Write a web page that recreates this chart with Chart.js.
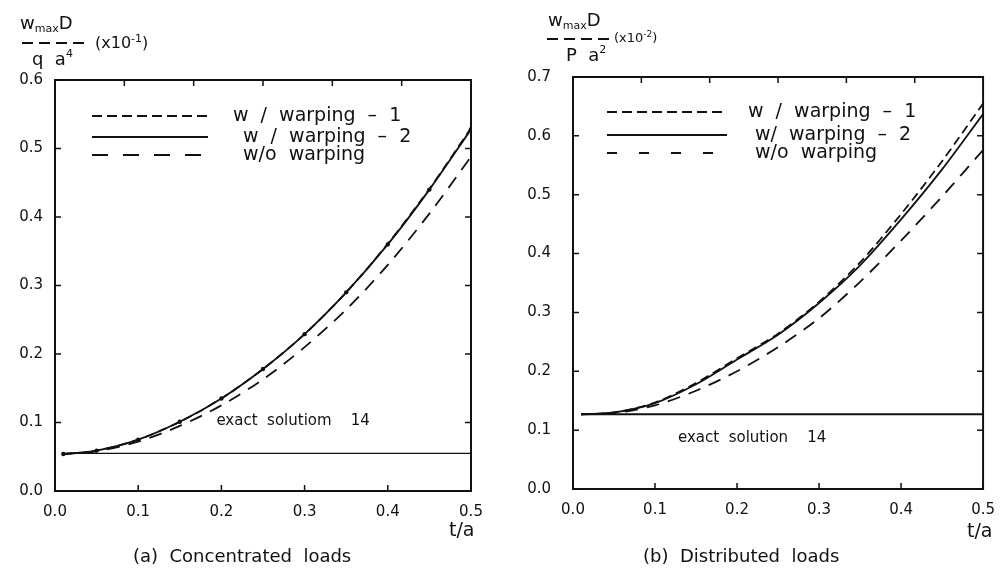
<!DOCTYPE html>
<html>
<head>
<meta charset="utf-8">
<title>w_max D vs t/a</title>
<script src="https://cdn.jsdelivr.net/npm/chart.js@4.4.1/dist/chart.umd.min.js"></script>
<style>
  body { margin: 0; background: #fff; width: 1007px; height: 570px; overflow: hidden; position: relative;
         font-family: "DejaVu Sans", sans-serif; color: #111; }
  .wrap { position: absolute; top: 0; height: 570px; }
  #wrapA { left: 0; width: 500px; }
  #wrapB { left: 500px; width: 507px; }
  .lbl { position: absolute; white-space: nowrap; line-height: 1; }
  .bar { position: absolute; height: 1.5px;
         background: repeating-linear-gradient(to right, #111 0 11px, transparent 11px 17px); }
</style>
</head>
<body>
<div class="wrap" id="wrapA"><canvas id="chartA" width="500" height="570"></canvas></div>
<div class="wrap" id="wrapB"><canvas id="chartB" width="507" height="570"></canvas></div>

<!-- y axis labels (fractions) -->
<div class="lbl" style="left:20px; top:14px; font-size:18px;">w<span style="font-size:11px; position:relative; top:3px;">max</span>D</div>
<div class="bar" style="left:22px; top:42px; width:64px;"></div>
<div class="lbl" style="left:32px; top:50px; font-size:18px;">q&nbsp;&nbsp;a<span style="font-size:11px; position:relative; top:-8px;">4</span></div>
<div class="lbl" style="left:95px; top:35px; font-size:16px;">(x10<span style="font-size:11px; position:relative; top:-6px;">-1</span>)</div>

<div class="lbl" style="left:548px; top:11px; font-size:18px;">w<span style="font-size:11px; position:relative; top:3px;">max</span>D</div>
<div class="bar" style="left:547px; top:38px; width:64px;"></div>
<div class="lbl" style="left:566px; top:46px; font-size:18px;">P&nbsp;&nbsp;a<span style="font-size:11px; position:relative; top:-8px;">2</span></div>
<div class="lbl" style="left:614px; top:31px; font-size:13px;">(x10<span style="font-size:9px; position:relative; top:-5px;">-2</span>)</div>

<!-- x axis titles and captions -->
<div class="lbl" style="left:449px; top:520px; font-size:19px;">t/a</div>
<div class="lbl" style="left:967px; top:521px; font-size:19px;">t/a</div>
<div class="lbl" style="left:133px; top:547px; font-size:18px;">(a)&nbsp;&nbsp;Concentrated&nbsp;&nbsp;loads</div>
<div class="lbl" style="left:643px; top:547px; font-size:18px;">(b)&nbsp;&nbsp;Distributed&nbsp;&nbsp;loads</div>

<script>
// t/a stations where the curves were read
const tValues = [0.01, 0.05, 0.10, 0.15, 0.20, 0.25, 0.30, 0.35, 0.40, 0.45, 0.50];
const xTicks = [0.0, 0.1, 0.2, 0.3, 0.4, 0.5];
const topTicks = [1/12, 2/12, 3/12, 4/12, 5/12];

// (a) concentrated loads, x10^-1
const concWarp1 = [0.054, 0.059, 0.075, 0.101, 0.135, 0.178, 0.229, 0.290, 0.361, 0.441, 0.530];
const concWarp2 = [0.054, 0.059, 0.075, 0.101, 0.135, 0.178, 0.229, 0.290, 0.360, 0.440, 0.528];
const concNoWarp = [0.054, 0.058, 0.072, 0.095, 0.125, 0.163, 0.210, 0.265, 0.330, 0.405, 0.488];
const concExact = 0.055;
const concYTicks = [0.0, 0.1, 0.2, 0.3, 0.4, 0.5, 0.6];

// (b) distributed loads, x10^-2
const distWarp1 = [0.127, 0.130, 0.147, 0.180, 0.222, 0.264, 0.318, 0.385, 0.467, 0.557, 0.655];
const distWarp2 = [0.127, 0.130, 0.146, 0.178, 0.220, 0.262, 0.316, 0.380, 0.458, 0.543, 0.637];
const distNoWarp = [0.127, 0.129, 0.142, 0.167, 0.200, 0.241, 0.290, 0.352, 0.422, 0.497, 0.576];
const distExact = 0.127;
const distYTicks = [0.0, 0.1, 0.2, 0.3, 0.4, 0.5, 0.6, 0.7];

const FONT = '"DejaVu Sans", sans-serif';
const INK = '#111';

function pts(vals) {
  return vals.map((v, i) => ({ x: tValues[i], y: v }));
}

// frame, inward ticks, legend and note drawn over the plot
const framePlugin = {
  id: 'frame',
  afterDatasetsDraw(chart, args, opts) {
    const ctx = chart.ctx;
    const a = chart.chartArea;
    const x = chart.scales.x, y = chart.scales.y;
    ctx.save();
    ctx.strokeStyle = INK;
    ctx.lineWidth = 2;
    ctx.setLineDash([]);
    ctx.strokeRect(a.left, a.top, a.right - a.left, a.bottom - a.top);

    ctx.lineWidth = 1.5;
    ctx.beginPath();
    xTicks.forEach(v => {
      const px = x.getPixelForValue(v);
      ctx.moveTo(px, a.bottom); ctx.lineTo(px, a.bottom - 6);
    });
    topTicks.forEach(v => {
      const px = x.getPixelForValue(v);
      ctx.moveTo(px, a.top); ctx.lineTo(px, a.top + 6);
    });
    opts.yTicks.forEach(v => {
      const py = y.getPixelForValue(v);
      ctx.moveTo(a.left, py); ctx.lineTo(a.left + 6, py);
      ctx.moveTo(a.right, py); ctx.lineTo(a.right - 6, py);
    });
    ctx.stroke();

    // note about exact solution
    ctx.fillStyle = INK;
    ctx.font = '15px ' + FONT;
    ctx.textBaseline = 'middle';
    ctx.textAlign = 'left';
    ctx.fillText(opts.note, x.getPixelForValue(opts.noteAt[0]), y.getPixelForValue(opts.noteAt[1]));

    // legend
    const lg = opts.legend;
    ctx.font = '19px ' + FONT;
    chart.data.datasets.filter(d => d.legendDash).forEach((d, i) => {
      const ly = lg.y + lg.rows[i];
      ctx.lineWidth = d.borderWidth;
      ctx.setLineDash(d.legendDash);
      ctx.beginPath();
      ctx.moveTo(lg.x, ly); ctx.lineTo(lg.x + lg.len, ly);
      ctx.stroke();
      ctx.setLineDash([]);
      ctx.fillText(d.label, lg.textX[i], ly);
    });
    ctx.restore();
  }
};

function makeChart(id, cfg) {
  return new Chart(document.getElementById(id), {
    type: 'line',
    data: {
      datasets: [
        { label: cfg.labels[0], data: pts(cfg.warp1), borderColor: INK, borderWidth: 1.8,
          borderDash: [9, 5], legendDash: [10, 5], pointRadius: 0, tension: 0.3 },
        { label: cfg.labels[1], data: pts(cfg.warp2), borderColor: INK, backgroundColor: INK, borderWidth: 1.8,
          legendDash: [1, 0], pointRadius: cfg.markers, pointBorderWidth: 0, tension: 0.3 },
        { label: cfg.labels[2], data: pts(cfg.noWarp), borderColor: INK, borderWidth: 1.8,
          borderDash: [13, 9], legendDash: cfg.noWarpDash, pointRadius: 0, tension: 0.3 },
        { label: 'exact solution', data: [{ x: tValues[0], y: cfg.exact }, { x: 0.5, y: cfg.exact }],
          borderColor: INK, borderWidth: cfg.exactWidth, pointRadius: 0 }
      ]
    },
    options: {
      responsive: false,
      animation: false,
      layout: { padding: cfg.padding },
      plugins: {
        legend: { display: false },
        tooltip: { enabled: false },
        frame: { yTicks: cfg.yTicks, note: cfg.note, noteAt: cfg.noteAt, legend: cfg.legend }
      },
      scales: {
        x: {
          type: 'linear', min: 0, max: 0.5,
          grid: { display: false, drawTicks: false }, border: { display: false },
          ticks: { stepSize: 0.1, padding: 12, color: INK, font: { family: FONT, size: 15 },
                   maxRotation: 0, callback: v => v.toFixed(1) },
          afterFit: s => { s.height = 30; }
        },
        y: {
          min: 0, max: cfg.yTicks[cfg.yTicks.length - 1],
          grid: { display: false, drawTicks: false }, border: { display: false },
          ticks: { stepSize: 0.1, padding: cfg.yPad, color: INK, font: { family: FONT, size: 15 },
                   callback: v => v.toFixed(1) },
          afterFit: s => { s.width = cfg.yWidth; }
        }
      }
    },
    plugins: [framePlugin]
  });
}

makeChart('chartA', {
  warp1: concWarp1, warp2: concWarp2, noWarp: concNoWarp, exact: concExact, exactWidth: 1.2,
  yTicks: concYTicks, markers: 2.2, noWarpDash: [16, 15],
  labels: ['w  /  warping  \u2013  1', 'w  /  warping  \u2013  2', 'w/o  warping'],
  note: 'exact  solutiom    14', noteAt: [0.194, 0.102],
  padding: { left: 0, right: 29, top: 80, bottom: 49 }, yWidth: 55, yPad: 12,
  legend: { x: 92, y: 116, len: 116, rows: [0, 21, 39], textX: [233, 243, 243] }
});

makeChart('chartB', {
  warp1: distWarp1, warp2: distWarp2, noWarp: distNoWarp, exact: distExact, exactWidth: 2,
  yTicks: distYTicks, markers: 0, noWarpDash: [10, 22],
  labels: ['w  /  warping  \u2013  1', 'w/  warping  \u2013  2', 'w/o  warping'],
  note: 'exact  solution    14', noteAt: [0.128, 0.087],
  padding: { left: 0, right: 18, top: 77, bottom: 51 }, yWidth: 73, yPad: 22,
  legend: { x: 107, y: 112, len: 120, rows: [0, 23, 41], textX: [248, 255, 255] }
});
</script>
</body>
</html>
